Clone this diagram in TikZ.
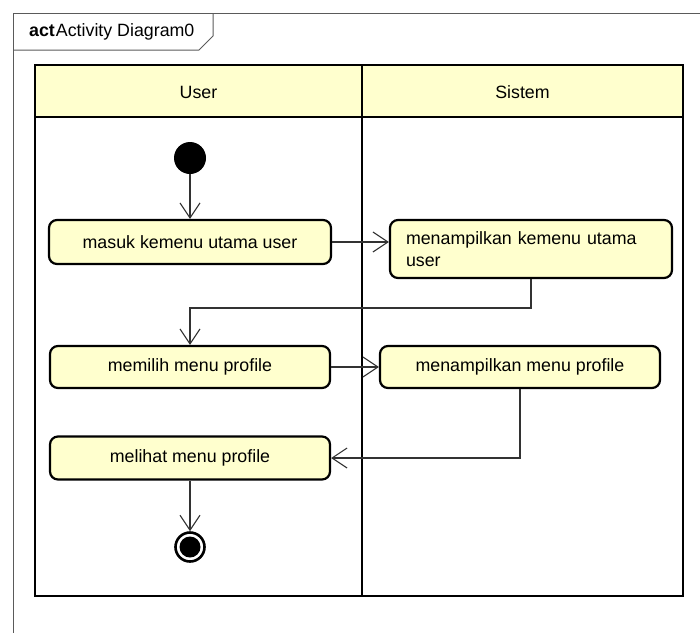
\documentclass[tikz,border=0pt]{standalone}
\usepackage{fontspec}
\setmainfont{Liberation Sans}
\usetikzlibrary{arrows.meta}
\definecolor{actfill}{RGB}{255,255,206}
\definecolor{flowgray}{RGB}{50,50,50}
\definecolor{framegray}{RGB}{90,90,90}

\begin{document}
\begin{tikzpicture}[x=1pt,y=-1pt,
  action/.style={draw=black, line width=2.2pt, rounded corners=8pt, fill=actfill,
    minimum width=280pt, inner sep=0pt, font=\fontsize{17.8}{22}\selectfont},
  flow/.style={draw=flowgray, line width=1.1pt,
    -{Straight Barb[length=15pt,width=20pt,line width=1.1pt]}},
  lane/.style={draw=black, line width=2.4pt},
  hdr/.style={font=\fontsize{17.8}{20}\selectfont, inner sep=0pt},
  frameline/.style={draw=framegray, line width=1pt}
]
\useasboundingbox (0,0) rectangle (700,633);

% diagram frame with its name tab
\draw[frameline] (700,13) -- (13,13) -- (13,633);
\draw[frameline] (13,50) -- (199,50) -- (213,36) -- (213,13);
\node[anchor=west, inner sep=0pt, font=\fontsize{17.8}{20}\selectfont] (title) at (29,32)
  {\textbf{act}\hspace{1pt}Activity Diagram0};

% swimlanes
\draw[lane, fill=actfill] (35,65) rectangle (683,117);
\draw[lane] (35,65) rectangle (683,596);
\draw[lane] (362,65) -- (362,596);
\node[hdr] (huser) at (198.5,92) {User};
\node[hdr] (hsys) at (522.5,92) {Sistem};

% initial and final nodes
\node[circle, fill=black, minimum size=32pt, inner sep=0pt] (start) at (190,158) {};
\node[circle, draw=black, line width=2.6pt, fill=white, minimum size=29pt, inner sep=0pt,
  path picture={\fill[black] (path picture bounding box.center) circle (10.5pt);}]
  (stop) at (190,547) {};

% actions
\node[action, minimum width=282pt, minimum height=44pt] (n1) at (190,242)
  {masuk kemenu utama user\hspace{6pt}};
\node[action, text width=250pt, inner xsep=16pt, align=left, minimum height=58pt]
  (n2) at (531,249) {menampilkan kemenu utama\\user};
\node[action, minimum height=42pt] (n3) at (190,367) {memilih menu profile\hspace{8pt}};
\node[action, minimum height=42pt] (n4) at (520,367) {menampilkan menu profile\hspace{16pt}};
\node[action, minimum height=43pt] (n5) at (190,458) {melihat menu profile\hspace{8pt}};

% control flows
\coordinate (bend) at (190,308);
\draw[flow] (start) -- (n1);
\draw[flow] (n1) -- (n2.west |- n1.east);
\draw[flow] (n2.south) |- (bend) -- (n3.north);
\draw[flow] (n3) -- (n4);
\draw[flow] (n4.south) |- (n5.east);
\draw[flow] (n5) -- (stop);
\end{tikzpicture}
\end{document}
